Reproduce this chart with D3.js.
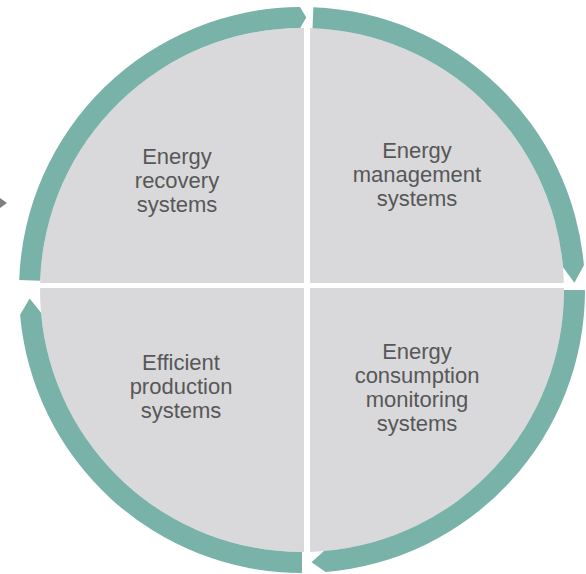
<!DOCTYPE html>
<html>
<head>
<meta charset="utf-8">
<script src="https://cdn.jsdelivr.net/npm/d3@7"></script>
<style>
  body { margin: 0; background: #fff; }
  svg { display: block; }
</style>
</head>
<body>
<svg width="586" height="574"></svg>
<script>
// quadrant labels, clockwise from top left
var labels = [
  ['Energy', 'recovery', 'systems'],
  ['Energy', 'management', 'systems'],
  ['Energy', 'consumption', 'monitoring', 'systems'],
  ['Efficient', 'production', 'systems']
];
// teal arrows: start, end of body, tip (degrees, clockwise from 12 o'clock)
var arcStart = [-88, 2.3, 90, 180];
var arcBody = [-0.4, 85, 175.2, 265];
var arcTip = [0.9, 88.5, 178, 268.2];

var svg = d3.select('svg');
var cx = 302, cy = 290;
var rIn = 262, rOut = 283;
var gapX = 307, gapY = 285.5, gapW = 6;

var angle = d3.scaleLinear().domain([0, 360]).range([0, 2 * Math.PI]);

function pt(a, r) {
  return [cx + r * Math.sin(a), cy - r * Math.cos(a)];
}

// grey disc, split by a white cross
svg.append('circle')
  .attr('cx', cx).attr('cy', cy).attr('r', rIn)
  .attr('fill', '#d9d9db');

svg.append('rect')
  .attr('x', gapX - gapW / 2).attr('y', cy - rIn - 2)
  .attr('width', gapW).attr('height', 2 * rIn + 4)
  .attr('fill', '#fff');
svg.append('rect')
  .attr('x', cx - rIn - 2).attr('y', gapY - gapW / 2 + 0.5)
  .attr('width', 2 * rIn + 4).attr('height', gapW - 1)
  .attr('fill', '#fff');

// ring segments with arrow tips
function arrowPath(i) {
  var a0 = angle(arcStart[i]), a1 = angle(arcBody[i]), a2 = angle(arcTip[i]);
  var p = d3.path();
  var s = pt(a0, rOut);
  p.moveTo(s[0], s[1]);
  p.arc(cx, cy, rOut, a0 - Math.PI / 2, a1 - Math.PI / 2, false);
  var t = pt(a2, (rIn + rOut) / 2);
  p.lineTo(t[0], t[1]);
  var q = pt(a1, rIn);
  p.lineTo(q[0], q[1]);
  p.arc(cx, cy, rIn, a1 - Math.PI / 2, a0 - Math.PI / 2, true);
  p.closePath();
  return p.toString();
}

svg.append('g').selectAll('path')
  .data(d3.range(arcStart.length))
  .enter()
  .append('path')
  .attr('d', arrowPath)
  .attr('fill', '#78b2a9');

// small connector arrow on the left edge
svg.append('path')
  .attr('d', 'M0,198 L7,203 L0,208 Z')
  .attr('fill', '#7f7f7f');

// label anchors relative to the centre
var offsets = [[-125, -102], [115, -108], [115, 105], [-121, 104]];
var lineH = 24;

var textG = svg.append('g')
  .attr('font-family', '"Liberation Sans", Arial, sans-serif')
  .attr('font-size', 22)
  .attr('fill', '#575757')
  .attr('text-anchor', 'middle');

labels.forEach(function(lines, i) {
  var x = cx + offsets[i][0];
  var y0 = cy + offsets[i][1] - (lines.length - 1) / 2 * lineH;
  var t = textG.append('text');
  lines.forEach(function(l, j) {
    t.append('tspan').attr('x', x).attr('y', y0 + j * lineH).text(l);
  });
});
</script>
</body>
</html>
